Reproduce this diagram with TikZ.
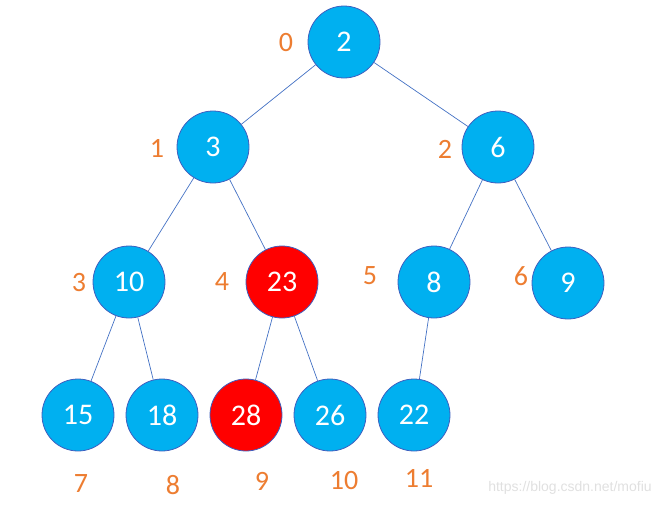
\documentclass[tikz,border=0pt]{standalone}
\usepackage{fontspec}
\setmainfont{Carlito}
\newfontfamily\markfont{Liberation Sans}
\definecolor{heapblue}{HTML}{00B0F0}
\definecolor{heapred}{HTML}{FF0000}
\definecolor{rimblue}{HTML}{3F5FBF}
\definecolor{edgeblue}{HTML}{4472C4}
\definecolor{idxorange}{HTML}{ED7D31}
\tikzset{
  heapnode/.style={circle,draw=rimblue,line width=0.8pt,fill=heapblue,
    minimum size=72pt,inner sep=0pt,text=white,font=\fontsize{30}{30}\selectfont},
  hotnode/.style={heapnode,fill=heapred},
  idx/.style={text=idxorange,font=\fontsize{28}{28}\selectfont},
  link/.style={edgeblue,line width=0.7pt}
}
\begin{document}
\begin{tikzpicture}[x=1pt,y=-1pt]
  \useasboundingbox (0,0) rectangle (672,506);
  % level 0
  \node[heapnode] (n0) at (344,42) {2};
  % level 1
  \node[heapnode] (n1) at (213,147) {3};
  \node[heapnode] (n2) at (498,147) {6};
  % level 2
  \node[heapnode] (n3) at (129,282) {10};
  \node[hotnode]  (n4) at (282,282) {23};
  \node[heapnode] (n5) at (434,282) {8};
  \node[heapnode] (n6) at (568,283) {9};
  % level 3
  \node[heapnode] (n7) at (78,415) {15};
  \node[heapnode] (n8) at (162,415) {18};
  \node[hotnode]  (n9) at (246,415) {28};
  \node[heapnode] (n10) at (330,415) {26};
  \node[heapnode] (n11) at (414,415) {22};
  % links
  \draw[link] (n0) -- (n1);
  \draw[link] (n0) -- (n2);
  \draw[link] (n1) -- (n3);
  \draw[link] (n1) -- (n4);
  \draw[link] (n2) -- (n5);
  \draw[link] (n2) -- (n6);
  \draw[link] (n3) -- (n7);
  \draw[link] (n3) -- (n8);
  \draw[link] (n4) -- (n9);
  \draw[link] (n4) -- (n10);
  \draw[link] (n5) -- (n11);
  % indices
  \node[idx] (i0) at (286,43) {0};
  \node[idx] (i1) at (157,148) {1};
  \node[idx] (i2) at (445,149) {2};
  \node[idx] (i3) at (79,283) {3};
  \node[idx] (i4) at (222,282) {4};
  \node[idx] (i5) at (370,276) {5};
  \node[idx] (i6) at (521,276) {6};
  \node[idx] (i7) at (81,484) {7};
  \node[idx] (i8) at (173,485) {8};
  \node[idx] (i9) at (262,481) {9};
  \node[idx] (i10) at (344,481) {10};
  \node[idx] (i11) at (419,478) {11};
  % watermark
  \node[text=black!12,font=\markfont\fontsize{14}{14}\selectfont] (wm) at (570,488) {https://blog.csdn.net/mofiu};
\end{tikzpicture}
\end{document}
